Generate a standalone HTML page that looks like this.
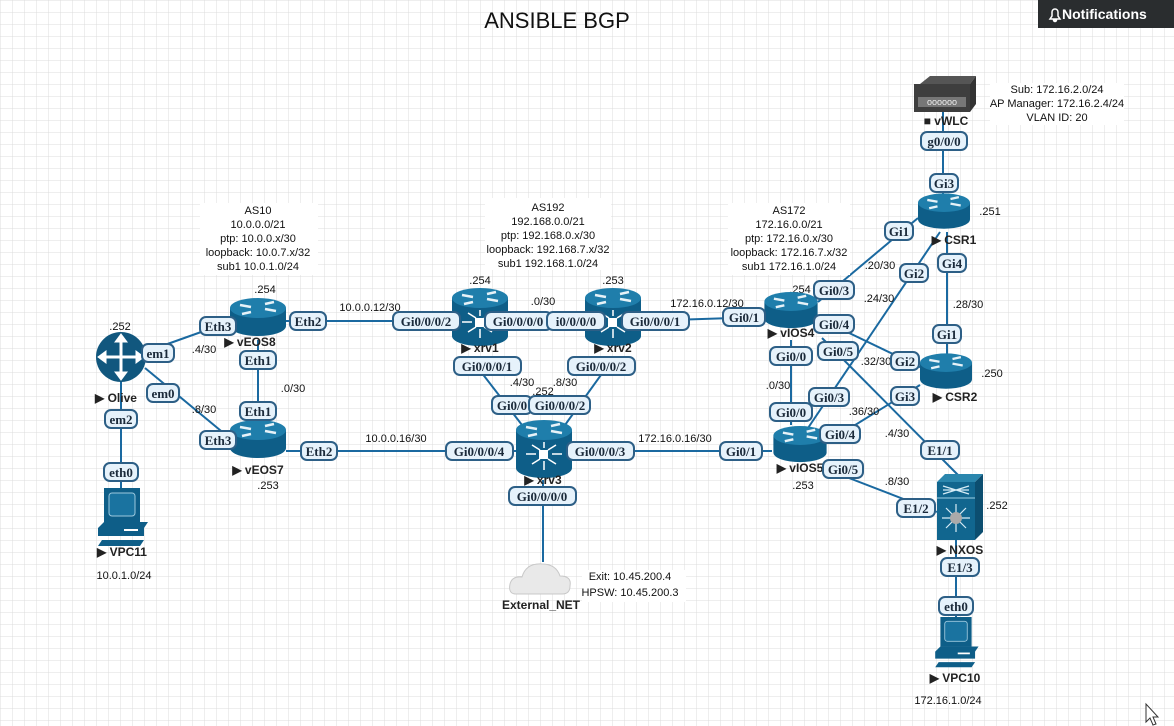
<!DOCTYPE html>
<html><head><meta charset="utf-8"><style>
html,body{margin:0;padding:0;width:1174px;height:726px;overflow:hidden;background:#fff}
svg{display:block}
.t{font-family:"Liberation Sans",sans-serif;font-size:11px;fill:#111}
.n{font-family:"Liberation Sans",sans-serif;font-size:12px;font-weight:bold;fill:#222}
.lb rect{fill:#e6f2fb;stroke:#2d5f86;stroke-width:2}
.lb text{font-family:"Liberation Serif",serif;font-weight:bold;font-size:13px;fill:#1b2a3a;text-anchor:middle}
.ln{stroke:#1a69a0;stroke-width:2;fill:none}
</style></head><body>
<svg width="1174" height="726" xmlns="http://www.w3.org/2000/svg">
<defs>
<pattern id="g" width="12" height="12" patternUnits="userSpaceOnUse"><path d="M12 0H0V12" fill="none" stroke="#dcdcdc" stroke-width="1"/></pattern>
<symbol id="rt" viewBox="0 0 56 40" overflow="visible">
<path d="M0 10 V28 A28 10 0 0 0 56 28 V10 Z" fill="#0e5e88"/>
<ellipse cx="28" cy="10" rx="28" ry="10" fill="#1f7eab"/>
<g stroke="#e6f2f8" stroke-width="2.5" fill="none"><path d="M10 7 L21 9 M35 11 L46 13 M21 14 L12 16 M35 6 L44 4"/></g>
</symbol>
<symbol id="xr" viewBox="0 0 56 58" overflow="visible">
<path d="M0 10 V48 A28 10 0 0 0 56 48 V10 Z" fill="#0e5e88"/>
<ellipse cx="28" cy="10" rx="28" ry="10" fill="#1f7eab"/>
<g stroke="#e6f2f8" stroke-width="2.5"><path d="M10 7 L21 9 M35 11 L46 13 M21 14 L12 16 M35 6 L44 4"/></g>
<rect x="23" y="30" width="9" height="9" fill="#fff"/>
<g stroke="#fff" stroke-width="1.5"><path d="M10 34H20M36 34H46M28 22V28M28 41V50M16 25L24 30M40 25L32 30M16 44L24 39M40 44L32 39"/></g>
</symbol>
<symbol id="pc" viewBox="0 0 56 60" overflow="visible">
<rect x="10" y="0" width="36" height="34" fill="#0e5e88"/>
<rect x="15" y="5" width="26" height="23" rx="3" fill="#1a73a0" stroke="#9cc8de" stroke-width="1"/>
<path d="M4 40 L10 34 H54 L50 40 V48 H4 Z" fill="#0e5e88"/>
<rect x="30" y="41" width="14" height="2" fill="#fff"/>
<path d="M8 52 H50 L46 58 H4 Z" fill="#0e5e88"/>
</symbol>
</defs>
<rect width="1174" height="726" fill="url(#g)"/>

<text x="557" y="28" font-family="Liberation Sans,sans-serif" font-size="22" text-anchor="middle" fill="#111">ANSIBLE BGP</text>
<rect x="1038" y="0" width="136" height="28" fill="#2a2d2f"/>
<path d="M1050 19 H1060 L1058 16 V12 A3 3 0 0 0 1052 12 V16 Z M1053.5 20 A1.5 1.5 0 0 0 1056.5 20 Z" fill="none" stroke="#fff" stroke-width="1.5"/>
<text x="1062" y="19" font-family="Liberation Sans,sans-serif" font-size="14" font-weight="bold" fill="#fff">Notifications</text>

<g class="ln">
<line x1="145" y1="352" x2="218" y2="326"/>
<line x1="145" y1="368" x2="232" y2="440"/>
<line x1="121" y1="380" x2="121" y2="490"/>
<line x1="258" y1="340" x2="258" y2="420"/>
<line x1="286" y1="321" x2="452" y2="321"/>
<line x1="286" y1="451" x2="516" y2="451"/>
<line x1="508" y1="321" x2="585" y2="321"/>
<line x1="641" y1="321" x2="764" y2="317"/>
<line x1="478" y1="368" x2="522" y2="425"/>
<line x1="606" y1="368" x2="565" y2="425"/>
<line x1="570" y1="451" x2="772" y2="451"/>
<line x1="543" y1="480" x2="543" y2="562"/>
<line x1="791" y1="340" x2="791" y2="425"/>
<line x1="818" y1="302" x2="918" y2="218"/>
<line x1="808" y1="428" x2="940" y2="232"/>
<line x1="947" y1="232" x2="947" y2="355"/>
<line x1="818" y1="318" x2="922" y2="368"/>
<line x1="826" y1="443" x2="920" y2="385"/>
<line x1="822" y1="338" x2="958" y2="475"/>
<line x1="823" y1="468" x2="937" y2="512"/>
<line x1="956" y1="540" x2="956" y2="622"/>
<line x1="943" y1="112" x2="943" y2="195"/>
</g>

<g class="t" text-anchor="middle">
<rect x="200" y="203" width="118" height="72" fill="#fff"/>
<text x="258" y="214">AS10</text><text x="258" y="228">10.0.0.0/21</text><text x="258" y="242">ptp: 10.0.0.x/30</text><text x="258" y="256">loopback: 10.0.7.x/32</text><text x="258" y="270">sub1 10.0.1.0/24</text>
<rect x="485" y="198" width="126" height="72" fill="#fff"/>
<text x="548" y="211">AS192</text><text x="548" y="225">192.168.0.0/21</text><text x="548" y="239">ptp: 192.168.0.x/30</text><text x="548" y="253">loopback: 192.168.7.x/32</text><text x="548" y="267">sub1 192.168.1.0/24</text>
<rect x="728" y="203" width="122" height="72" fill="#fff"/>
<text x="789" y="214">AS172</text><text x="789" y="228">172.16.0.0/21</text><text x="789" y="242">ptp: 172.16.0.x/30</text><text x="789" y="256">loopback: 172.16.7.x/32</text><text x="789" y="270">sub1 172.16.1.0/24</text>
<rect x="990" y="83" width="134" height="42" fill="#fff"/>
<text x="1057" y="93">Sub: 172.16.2.0/24</text><text x="1057" y="107">AP Manager: 172.16.2.4/24</text><text x="1057" y="121">VLAN ID: 20</text>
<rect x="582" y="570" width="104" height="32" fill="#fff"/>
<text x="630" y="580">Exit: 10.45.200.4</text><text x="630" y="596">HPSW: 10.45.200.3</text>
</g>

<g class="t" text-anchor="middle">
<text x="370" y="311">10.0.0.12/30</text><text x="204" y="353">.4/30</text><text x="204" y="413">.8/30</text><text x="293" y="392">.0/30</text>
<text x="396" y="442">10.0.0.16/30</text><text x="543" y="305">.0/30</text><text x="522" y="386">.4/30</text><text x="565" y="386">.8/30</text>
<text x="707" y="307">172.16.0.12/30</text><text x="675" y="442">172.16.0.16/30</text>
<text x="880" y="269">.20/30</text><text x="879" y="302">.24/30</text><text x="968" y="308">.28/30</text><text x="778" y="389">.0/30</text>
<text x="876" y="365">.32/30</text><text x="864" y="415">.36/30</text><text x="897" y="437">.4/30</text><text x="897" y="485">.8/30</text>
<text x="265" y="293">.254</text><text x="120" y="330">.252</text><text x="268" y="489">.253</text>
<text x="480" y="284">.254</text><text x="613" y="284">.253</text><text x="543" y="395">.252</text>
<text x="800" y="293">.254</text><text x="803" y="489">.253</text><text x="990" y="215">.251</text><text x="992" y="377">.250</text><text x="997" y="509">.252</text>
<text x="124" y="579">10.0.1.0/24</text><text x="948" y="704">172.16.1.0/24</text>
</g>

<use href="#rt" x="230" y="298" width="56" height="40"/>
<use href="#rt" x="230" y="420" width="56" height="40"/>
<use href="#xr" x="452" y="288" width="56" height="58"/>
<use href="#xr" x="585" y="288" width="56" height="58"/>
<use href="#xr" x="516" y="420" width="56" height="58"/>
<use href="#rt" x="764" y="292" width="54" height="38"/>
<use href="#rt" x="773" y="426" width="54" height="38"/>
<use href="#rt" x="918" y="193" width="52" height="38"/>
<use href="#rt" x="920" y="353" width="52" height="38"/>
<use href="#pc" x="94" y="488" width="56" height="60"/>
<use href="#pc" x="928" y="617" width="56" height="52"/>
<circle cx="121" cy="357" r="25" fill="#11577e"/>
<g stroke="#fff" stroke-width="3" fill="#fff"><path d="M121 337V377M101 357H141" fill="none"/><path d="M115 342L121 334L127 342Z" stroke-width="1"/><path d="M115 372L121 380L127 372Z" stroke-width="1"/><path d="M106 351L98 357L106 363Z" stroke-width="1"/><path d="M136 351L144 357L136 363Z" stroke-width="1"/></g>
<path d="M920 84L930 76H976L970 84Z" fill="#555"/><path d="M970 84L976 76V104L970 112Z" fill="#333"/>
<rect x="914" y="84" width="56" height="28" fill="#3e3e3e"/>
<rect x="918" y="97" width="48" height="10" fill="#777"/>
<text x="942" y="105" font-size="9" fill="#eee" text-anchor="middle" font-family="Liberation Sans,sans-serif">oooooo</text>
<path d="M937 482L945 474H983L975 482Z" fill="#2a86ad"/><path d="M975 482L983 474V532L975 540Z" fill="#0c4e70"/>
<rect x="937" y="482" width="38" height="58" fill="#11668f"/>
<line x1="937" y1="498" x2="975" y2="498" stroke="#9fd0e6" stroke-width="1"/>
<g stroke="#d6ecf6" stroke-width="1.2"><path d="M943 490L969 490M943 494L969 486M943 486L969 494"/><path d="M956 504V532M942 518H970M946 508L966 528M966 508L946 528"/></g>
<circle cx="956" cy="518" r="6" fill="#aaa"/>
<path d="M516 594 Q508 594 510 584 Q512 576 522 577 Q526 563 542 564 Q556 564 560 576 Q572 576 570 586 Q570 594 562 594 Z" fill="#e9e9e9" stroke="#c8c8c8"/>

<g class="n" text-anchor="middle">
<text x="250" y="346">▶ vEOS8</text><text x="258" y="474">▶ vEOS7</text><text x="116" y="402">▶ Olive</text><text x="122" y="556">▶ VPC11</text>
<text x="480" y="352">▶ xrv1</text><text x="613" y="352">▶ xrv2</text><text x="543" y="484">▶ xrv3</text>
<text x="791" y="337">▶ vIOS4</text><text x="800" y="472">▶ vIOS5</text><text x="954" y="244">▶ CSR1</text><text x="955" y="401">▶ CSR2</text>
<text x="960" y="554">▶ NXOS</text><text x="946" y="125">■ vWLC</text><text x="955" y="682">▶ VPC10</text>
<text x="541" y="609">External_NET</text>
</g>

<g class="lb">
<rect x="142" y="344" width="32" height="18" rx="6"/><text x="158" y="358">em1</text>
<rect x="147" y="384" width="32" height="18" rx="6"/><text x="163" y="398">em0</text>
<rect x="105" y="410" width="32" height="18" rx="6"/><text x="121" y="424">em2</text>
<rect x="104" y="463" width="34" height="18" rx="6"/><text x="121" y="477">eth0</text>
<rect x="200" y="317" width="36" height="18" rx="6"/><text x="218" y="331">Eth3</text>
<rect x="200" y="431" width="36" height="18" rx="6"/><text x="218" y="445">Eth3</text>
<rect x="240" y="351" width="36" height="18" rx="6"/><text x="258" y="365">Eth1</text>
<rect x="240" y="402" width="36" height="18" rx="6"/><text x="258" y="416">Eth1</text>
<rect x="290" y="312" width="36" height="18" rx="6"/><text x="308" y="326">Eth2</text>
<rect x="301" y="442" width="36" height="18" rx="6"/><text x="319" y="456">Eth2</text>
<rect x="393" y="312" width="67" height="18" rx="6"/><text x="426" y="326">Gi0/0/0/2</text>
<rect x="485" y="312" width="67" height="18" rx="6"/><text x="518" y="326">Gi0/0/0/0</text>
<rect x="547" y="312" width="58" height="18" rx="6"/><text x="576" y="326">i0/0/0/0</text>
<rect x="622" y="312" width="67" height="18" rx="6"/><text x="655" y="326">Gi0/0/0/1</text>
<rect x="454" y="357" width="67" height="18" rx="6"/><text x="487" y="371">Gi0/0/0/1</text>
<rect x="568" y="357" width="67" height="18" rx="6"/><text x="601" y="371">Gi0/0/0/2</text>
<rect x="492" y="396" width="40" height="18" rx="6"/><text x="512" y="410">Gi0/0</text>
<rect x="529" y="396" width="61" height="18" rx="6"/><text x="560" y="410">Gi0/0/0/2</text>
<rect x="446" y="442" width="67" height="18" rx="6"/><text x="479" y="456">Gi0/0/0/4</text>
<rect x="567" y="442" width="67" height="18" rx="6"/><text x="600" y="456">Gi0/0/0/3</text>
<rect x="509" y="487" width="67" height="18" rx="6"/><text x="542" y="501">Gi0/0/0/0</text>
<rect x="723" y="308" width="42" height="18" rx="6"/><text x="744" y="322">Gi0/1</text>
<rect x="720" y="442" width="42" height="18" rx="6"/><text x="741" y="456">Gi0/1</text>
<rect x="770" y="347" width="42" height="18" rx="6"/><text x="791" y="361">Gi0/0</text>
<rect x="770" y="403" width="42" height="18" rx="6"/><text x="791" y="417">Gi0/0</text>
<rect x="814" y="281" width="40" height="18" rx="6"/><text x="834" y="295">Gi0/3</text>
<rect x="814" y="315" width="40" height="18" rx="6"/><text x="834" y="329">Gi0/4</text>
<rect x="818" y="342" width="40" height="18" rx="6"/><text x="838" y="356">Gi0/5</text>
<rect x="809" y="388" width="40" height="18" rx="6"/><text x="829" y="402">Gi0/3</text>
<rect x="820" y="425" width="40" height="18" rx="6"/><text x="840" y="439">Gi0/4</text>
<rect x="823" y="460" width="40" height="18" rx="6"/><text x="843" y="474">Gi0/5</text>
<rect x="885" y="222" width="28" height="18" rx="6"/><text x="899" y="236">Gi1</text>
<rect x="900" y="264" width="28" height="18" rx="6"/><text x="914" y="278">Gi2</text>
<rect x="938" y="254" width="28" height="18" rx="6"/><text x="952" y="268">Gi4</text>
<rect x="933" y="325" width="28" height="18" rx="6"/><text x="947" y="339">Gi1</text>
<rect x="891" y="352" width="28" height="18" rx="6"/><text x="905" y="366">Gi2</text>
<rect x="891" y="387" width="28" height="18" rx="6"/><text x="905" y="401">Gi3</text>
<rect x="930" y="174" width="28" height="18" rx="6"/><text x="944" y="188">Gi3</text>
<rect x="921" y="132" width="46" height="18" rx="6"/><text x="944" y="146">g0/0/0</text>
<rect x="921" y="441" width="38" height="18" rx="6"/><text x="940" y="455">E1/1</text>
<rect x="897" y="499" width="38" height="18" rx="6"/><text x="916" y="513">E1/2</text>
<rect x="941" y="558" width="38" height="18" rx="6"/><text x="960" y="572">E1/3</text>
<rect x="939" y="597" width="34" height="18" rx="6"/><text x="956" y="611">eth0</text>
</g>
<path d="M1146 704 V722 L1150 718 L1153 725 L1156 724 L1153 717 L1158 717 Z" fill="#fff" stroke="#333" stroke-width="1"/>
</svg>
</body></html>
